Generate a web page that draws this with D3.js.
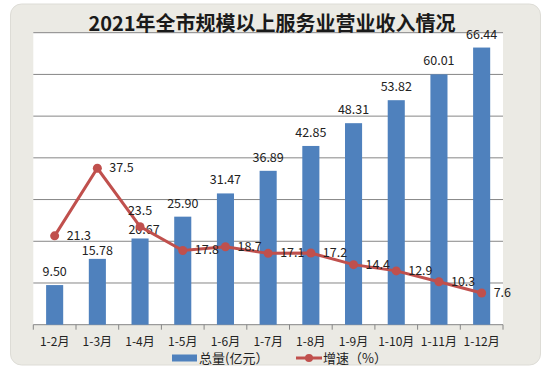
<!DOCTYPE html>
<html>
<head>
<meta charset="utf-8">
<script src="https://cdn.jsdelivr.net/npm/d3@7"></script>
<style>
  body { margin: 0; background: #fff; }
  text { font-family: "Noto Sans CJK SC", "DejaVu Sans", sans-serif; }
</style>
</head>
<body>
<div id="chart"></div>
<script>
// data
var months = ["1-2月", "1-3月", "1-4月", "1-5月", "1-6月", "1-7月", "1-8月", "1-9月", "1-10月", "1-11月", "1-12月"];
var totals = [9.50, 15.78, 20.67, 25.90, 31.47, 36.89, 42.85, 48.31, 53.82, 60.01, 66.44];
var growth = [21.3, 37.5, 23.5, 17.8, 18.7, 17.1, 17.2, 14.4, 12.9, 10.3, 7.6];
var yTicks = [0, 10, 20, 30, 40, 50, 60, 70];

var W = 549, H = 371;
var margin = {top: 32.7, right: 46, bottom: 46.3, left: 33.3},
    width = W - margin.left - margin.right,
    height = H - margin.top - margin.bottom;

var svg = d3.select("#chart")
  .append("svg")
    .attr("width", W)
    .attr("height", H);

// chart area background
svg.append("rect")
    .attr("x", 10.5).attr("y", 4)
    .attr("width", 530).attr("height", 361)
    .attr("rx", 11)
    .attr("fill", "#ebeae4")
    .attr("stroke", "#dddcd6");

var g = svg.append("g")
    .attr("transform", "translate(" + margin.left + "," + margin.top + ")");

g.append("rect")
    .attr("width", width).attr("height", height)
    .attr("fill", "#fff");

var x = d3.scaleBand().domain(months).range([0, width]).paddingInner(0.6).paddingOuter(0.3);
var y = d3.scaleLinear().domain([0, 70]).range([height, 0]);
var y2 = d3.scaleLinear().domain([0, 70]).range([height, 0]);

// gridlines
g.append("g").selectAll("line")
  .data(yTicks.slice(1))
  .enter().append("line")
    .attr("x1", 0).attr("x2", width)
    .attr("y1", function(d) { return y(d); })
    .attr("y2", function(d) { return y(d); })
    .attr("stroke", "#868686")
    .attr("stroke-width", 1);

// x axis with ticks between categories
var xAxis = g.append("g")
    .attr("transform", "translate(0," + height + ")");
xAxis.append("line")
    .attr("x1", 0).attr("x2", width)
    .attr("stroke", "#868686");
xAxis.selectAll(".tk")
  .data(d3.range(months.length + 1))
  .enter().append("line")
    .attr("x1", function(i) { return i * width / months.length; })
    .attr("x2", function(i) { return i * width / months.length; })
    .attr("y1", 0).attr("y2", 5)
    .attr("stroke", "#868686");
xAxis.selectAll(".lbl")
  .data(months)
  .enter().append("text")
    .attr("x", function(d) { return x(d) + x.bandwidth() / 2; })
    .attr("y", 21)
    .attr("text-anchor", "middle")
    .attr("font-size", 12)
    .attr("fill", "#222")
    .text(function(d) { return d; });

// bars
g.selectAll(".bar")
  .data(totals)
  .enter().append("rect")
    .attr("x", function(d, i) { return x(months[i]); })
    .attr("y", function(d) { return y(d); })
    .attr("width", x.bandwidth())
    .attr("height", function(d) { return height - y(d); })
    .attr("fill", "#4f81bd");

// a couple of labels sit lower in the original (pushed by the line)
g.selectAll(".blbl")
  .data(totals)
  .enter().append("text")
    .attr("x", function(d, i) { return x(months[i]) + x.bandwidth() / 2 + (i == 2 ? 4 : 0); })
    .attr("y", function(d, i) { return y(d) - (i == 1 || i == 2 ? 4 : 9); })
    .attr("text-anchor", "middle")
    .attr("font-size", 12.5)
    .attr("fill", "#222")
    .text(function(d) { return d.toFixed(2); });

// growth line
var cx = function(i) { return x(months[i]) + x.bandwidth() / 2; };
var line = d3.line()
    .x(function(d, i) { return cx(i); })
    .y(function(d) { return y2(d); });

g.append("path")
    .datum(growth)
    .attr("d", line)
    .attr("fill", "none")
    .attr("stroke", "#c0504d")
    .attr("stroke-width", 3);

g.selectAll(".dot")
  .data(growth)
  .enter().append("circle")
    .attr("cx", function(d, i) { return cx(i); })
    .attr("cy", function(d) { return y2(d); })
    .attr("r", 4.5)
    .attr("fill", "#c0504d");

g.selectAll(".glbl")
  .data(growth)
  .enter().append("text")
    .attr("x", function(d, i) { return i == 2 ? cx(i) : cx(i) + 12; })
    .attr("y", function(d, i) { return i == 2 ? y2(d) - 12 : y2(d) + 4; })
    .attr("text-anchor", function(d, i) { return i == 2 ? "middle" : "start"; })
    .attr("font-size", 12.5)
    .attr("fill", "#222")
    .text(function(d) { return d; });

// title
svg.append("text")
    .attr("x", 272)
    .attr("y", 31)
    .attr("text-anchor", "middle")
    .attr("font-size", 20)
    .attr("font-weight", "bold")
    .attr("fill", "#1a1a1a")
    .text("2021年全市规模以上服务业营业收入情况");

// legend
var leg = svg.append("g").attr("transform", "translate(0,358)");
leg.append("rect")
    .attr("x", 172).attr("y", -3.5)
    .attr("width", 25).attr("height", 7)
    .attr("fill", "#4f81bd");
leg.append("text")
    .attr("x", 199).attr("y", 4.5)
    .attr("font-size", 13)
    .attr("fill", "#222")
    .text("总量(亿元）");
leg.append("line")
    .attr("x1", 296).attr("x2", 322)
    .attr("stroke", "#c0504d").attr("stroke-width", 3);
leg.append("circle")
    .attr("cx", 309).attr("r", 4)
    .attr("fill", "#c0504d");
leg.append("text")
    .attr("x", 323).attr("y", 4.5)
    .attr("font-size", 13)
    .attr("fill", "#222")
    .text("增速（%）");
</script>
</body>
</html>
